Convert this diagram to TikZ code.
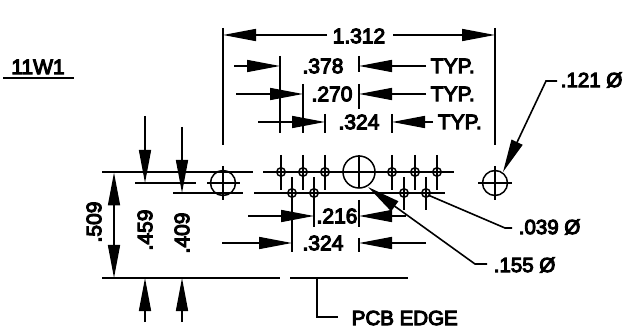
\documentclass[tikz,border=0pt]{standalone}
\usepackage{fontspec}
\usetikzlibrary{arrows.meta}
\newfontfamily\lab{Liberation Sans}[FakeBold=5]
\tikzset{
  every picture/.style={x=1pt,y=-1pt,line width=1.6pt,line cap=butt},
  hole/.style={draw,circle,inner sep=0pt,line width=1.5pt},
  dim/.style={-{Triangle[length=33pt,width=12pt]},line width=1.6pt},
  lbl/.style={font=\lab\fontsize{21}{23}\selectfont,inner sep=0pt,text=black},
  sm/.style={font=\lab\fontsize{20.5}{23}\selectfont,inner sep=0pt,text=black},
}
\begin{document}
\begin{tikzpicture}
\useasboundingbox (0,0) rectangle (644,328);
% title
\node[lbl] (title) at (38,67) {11W1};
\draw (3,78) -- (74,78);
% extension lines
\draw (223,28) -- (223,145);
\draw (495,28) -- (495,145);
\draw (280,56) -- (280,133);
\draw (303,84) -- (303,133);
\draw (325,114) -- (325,133);
\draw (359,56) -- (359,72);
\draw (359,84) -- (359,109);
\draw (392,114) -- (392,133);
% 1.312
\node[lbl] (d1312) at (359,36) {1.312};
\coordinate (a1) at (223,35); \coordinate (b1) at (495,35);
\draw[dim] (327,35) -- (a1);
\draw[dim] (393,35) -- (b1);
% .378
\node[lbl] (d378) at (323,66) {.378};
\node[lbl,anchor=west] (t1) at (430,66) {TYP.};
\draw[dim] (234,66) -- (280,66);
\draw[dim] (426,66) -- (359,66);
% .270
\node[lbl] (d270) at (332,94) {.270};
\node[lbl,anchor=west] (t2) at (430,94) {TYP.};
\draw[dim] (236,94) -- (303,94);
\draw[dim] (426,94) -- (359,94);
% .324
\node[lbl] (d324a) at (359,122) {.324};
\node[lbl,anchor=west] (t3) at (437,122) {TYP.};
\draw[dim] (258,122) -- (325,122);
\draw[dim] (433,122) -- (392,122);
% centre lines
\draw (102,172) -- (253,172);
\draw (263,172) -- (454,172);
\draw (173,193) -- (243,193);
\draw (254,193) -- (445,193);
\draw (135,183) -- (196,183);
% big end holes
\node[hole,minimum size=25pt] (hl) at (223,183) {};
\draw (207,183) -- (240,183);
\draw (223,166) -- (223,200);
\node[hole,minimum size=25pt] (hr) at (495,183) {};
\draw (478,183) -- (512,183);
\draw (495,166) -- (495,200);
% centre hole
\node[hole,minimum size=32pt] (hc) at (359,172) {};
\draw (359,155) -- (359,188);
% small holes, upper
\foreach \x/\n in {281/u1,303/u2,325/u3,392/u4,415/u5,437/u6}{
  \node[hole,minimum size=8.5pt] (\n) at (\x,172) {};
  \draw (\x,155) -- (\x,190);
}
% small holes, lower
\foreach \x/\n in {292/l1,314/l2,404/l3,426/l4}{
  \node[hole,minimum size=8.5pt] (\n) at (\x,193) {};
  \draw (\x,177) -- (\x,210);
}
% lower extensions
\draw (292,210) -- (292,252);
\draw (314,210) -- (314,227);
\draw (359,200) -- (359,227);
\draw (359,238) -- (359,252);
% .216
\node[lbl] (d216) at (337,216) {.216};
\draw[dim] (248,216) -- (314,216);
\draw[dim] (406,216) -- (359,216);
% .324 lower
\node[lbl] (d324b) at (323,243) {.324};
\draw[dim] (222,243) -- (292,243);
\draw[dim] (426,243) -- (359,243);
% bottom edge
\draw (102,278) -- (280,278);
\draw (290,278) -- (408,278);
% vertical dims
\draw[dim] (114,222) -- (114,172.5);
\draw[dim] (114,222) -- (114,278);
\node[lbl,rotate=90] (d509) at (94,222) {.509};
\draw[dim] (145,116) -- (145,183);
\draw[dim] (145,322) -- (145,278);
\node[lbl,rotate=90] (d459) at (145,230) {.459};
\draw[dim] (182,127) -- (182,193);
\draw[dim] (182,322) -- (182,278);
\node[lbl,rotate=90] (d409) at (182,233) {.409};
% leaders
\node[sm,anchor=west] (n121) at (560,80) {.121 Ø};
\draw[dim] (557,81) -- (546,81) -- (503,172);
\node[sm,anchor=west] (n039) at (518,227) {.039 Ø};
\draw (512,228) -- (505,228) -- (428,195);
\node[sm,anchor=west] (n155) at (493,265) {.155 Ø};
\draw[dim] (487,264) -- (475,264) -- (368,187);
% pcb edge
\node[sm,anchor=west] (pcb) at (351,318) {PCB EDGE};
\draw (317,278) -- (317,317) -- (338,317);
\end{tikzpicture}
\end{document}
